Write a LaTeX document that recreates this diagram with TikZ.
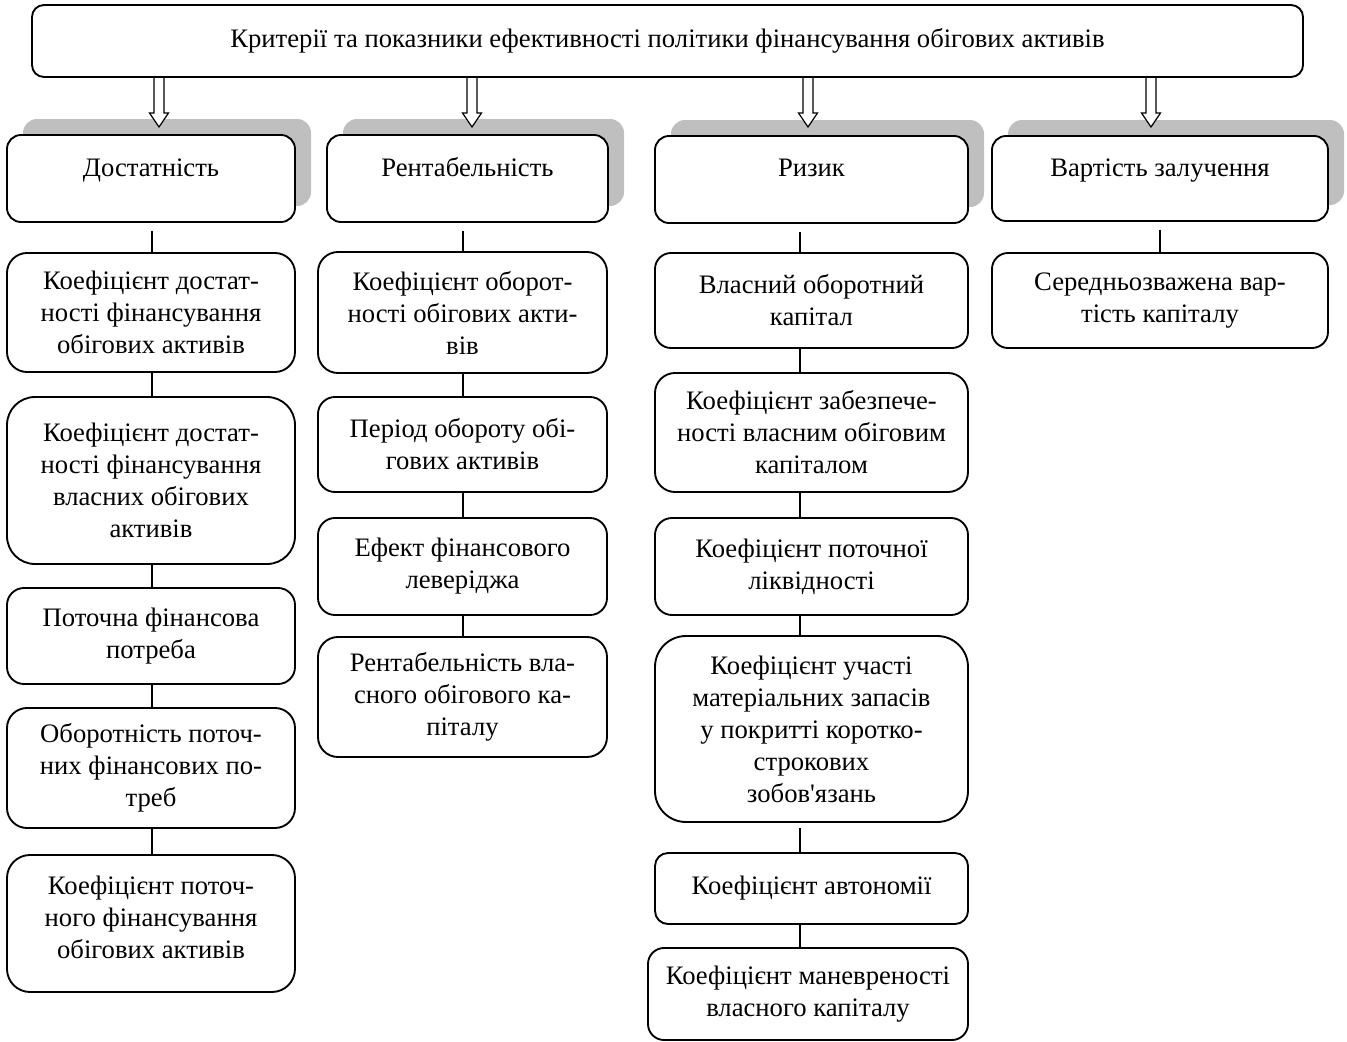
\documentclass[tikz,border=0pt]{standalone}
\usepackage{fontspec}
\setmainfont{Liberation Serif}
\begin{document}
\begin{tikzpicture}[x=0.75pt,y=-0.75pt,
  bx/.style={draw=black, line width=1.4pt, fill=white, inner sep=0pt, align=center,
    font=\fontsize{20}{24}\selectfont},
  txt/.style={inner sep=0pt, align=center, font=\fontsize{20}{24}\selectfont},
  shade/.style={fill=shadowgray},
  conn/.style={draw=black, line width=1.1pt},
  harrow/.style={draw=black, line width=0.9pt, fill=white, line join=miter}]
\definecolor{shadowgray}{RGB}{191,191,191}
\useasboundingbox (0,0) rectangle (1347,1042);
\newcommand\mybox[7]{\node[bx, minimum width={(#4-#2)*0.75pt}, minimum height={(#5-#3)*0.75pt}, rounded corners=#6*0.75pt] (#1) at ({(#2+#4)/2},{(#3+#5)/2}) {#7};}
\newcommand\headbox[7]{\node[bx, minimum width={(#4-#2)*0.75pt}, minimum height={(#5-#3)*0.75pt}, rounded corners=#6*0.75pt] (#1) at ({(#2+#4)/2},{(#3+#5)/2}) {};
  \node[txt, anchor=base] (#1t) at ({(#2+#4)/2},176) {#7};}
% shadows
\fill[shade, rounded corners=14*0.75pt] (23,119) rectangle (311,206);
\fill[shade, rounded corners=14*0.75pt] (343,119) rectangle (624,206);
\fill[shade, rounded corners=14*0.75pt] (671,120) rectangle (984,207);
\fill[shade, rounded corners=14*0.75pt] (1008,120) rectangle (1344,205);
% arrow coordinates
\coordinate (a1) at (159,77);
\coordinate (a2) at (472,77);
\coordinate (a3) at (808,77);
\coordinate (a4) at (1151,77);
\foreach \a in {a1,a2,a3,a4}{
  \draw[harrow] (\a) ++(-5,1) -- ++(0,35) -- ++(-4.5,0) -- ++(9.5,14) -- ++(9.5,-14) -- ++(-4.5,0) -- ++(0,-35);
}
% top box
\mybox{top}{32}{5}{1303}{77}{12}{Критерії та показники ефективності політики фінансування обігових активів}
% headers
\headbox{h1}{7}{135}{295}{222}{14}{Достатність}
\headbox{h2}{327}{135}{608}{222}{14}{Рентабельність}
\headbox{h3}{655}{136}{968}{223}{14}{Ризик}
\headbox{h4}{992}{136}{1328}{221}{14}{Вартість залучення}
% column 1
\mybox{d1}{7}{253}{295}{372}{20}{Коефіцієнт достат-\\ності фінансування\\обігових активів}
\mybox{d2}{7}{397}{295}{564}{28}{Коефіцієнт достат-\\ності фінансування\\власних обігових\\активів}
\mybox{d3}{7}{588}{295}{684}{17}{Поточна фінансова\\потреба}
\mybox{d4}{7}{708}{295}{828}{20}{Оборотність поточ-\\них фінансових по-\\треб}
\mybox{d5}{7}{855}{295}{992}{23}{Коефіцієнт поточ-\\ного фінансування\\обігових активів\\[-15pt]}
% column 2
\mybox{p1}{318}{252}{607}{373}{20}{Коефіцієнт оборот-\\ності обігових акти-\\вів}
\mybox{p2}{318}{397}{607}{492}{17}{Період обороту обі-\\гових активів}
\mybox{p3}{318}{518}{607}{615}{17}{Ефект фінансового\\леверіджа}
\mybox{p4}{318}{637}{607}{757}{20}{Рентабельність вла-\\сного обігового ка-\\піталу}
% column 3
\mybox{r1}{655}{253}{968}{348}{16}{Власний оборотний\\капітал}
\mybox{r2}{655}{373}{968}{492}{20}{Коефіцієнт забезпече-\\ності власним обіговим\\капіталом}
\mybox{r3}{655}{518}{968}{615}{17}{Коефіцієнт поточної\\ліквідності}
\mybox{r4}{655}{636}{968}{822}{31}{Коефіцієнт участі\\матеріальних запасів\\у покритті коротко-\\строкових\\зобов\textquotesingle язань}
\mybox{r5}{655}{853}{968}{924}{13}{Коефіцієнт автономії}
\mybox{r6}{648}{948}{968}{1040}{16}{Коефіцієнт маневреності\\власного капіталу}
% column 4
\mybox{v1}{992}{253}{1328}{348}{16}{Середньозважена вар-\\тість капіталу}
% connector columns
\coordinate (c1) at (152,0);
\coordinate (c2) at (463,0);
\coordinate (c3) at (800,0);
\coordinate (c4) at (1160,0);
\draw[conn] ([yshift=-6pt]h1.south -| c1) -- (d1.north -| c1);
\draw[conn] (d1.south -| c1) -- (d2.north -| c1);
\draw[conn] (d2.south -| c1) -- (d3.north -| c1);
\draw[conn] (d3.south -| c1) -- (d4.north -| c1);
\draw[conn] (d4.south -| c1) -- (d5.north -| c1);
\draw[conn] ([yshift=-6pt]h2.south -| c2) -- (p1.north -| c2);
\draw[conn] (p1.south -| c2) -- (p2.north -| c2);
\draw[conn] (p2.south -| c2) -- (p3.north -| c2);
\draw[conn] (p3.south -| c2) -- (p4.north -| c2);
\draw[conn] ([yshift=-6pt]h3.south -| c3) -- (r1.north -| c3);
\draw[conn] (r1.south -| c3) -- (r2.north -| c3);
\draw[conn] (r2.south -| c3) -- (r3.north -| c3);
\draw[conn] (r3.south -| c3) -- (r4.north -| c3);
\draw[conn] ([yshift=-4pt]r4.south -| c3) -- (r5.north -| c3);
\draw[conn] (r5.south -| c3) -- (r6.north -| c3);
\draw[conn] ([yshift=-6pt]h4.south -| c4) -- (v1.north -| c4);
\end{tikzpicture}
\end{document}
